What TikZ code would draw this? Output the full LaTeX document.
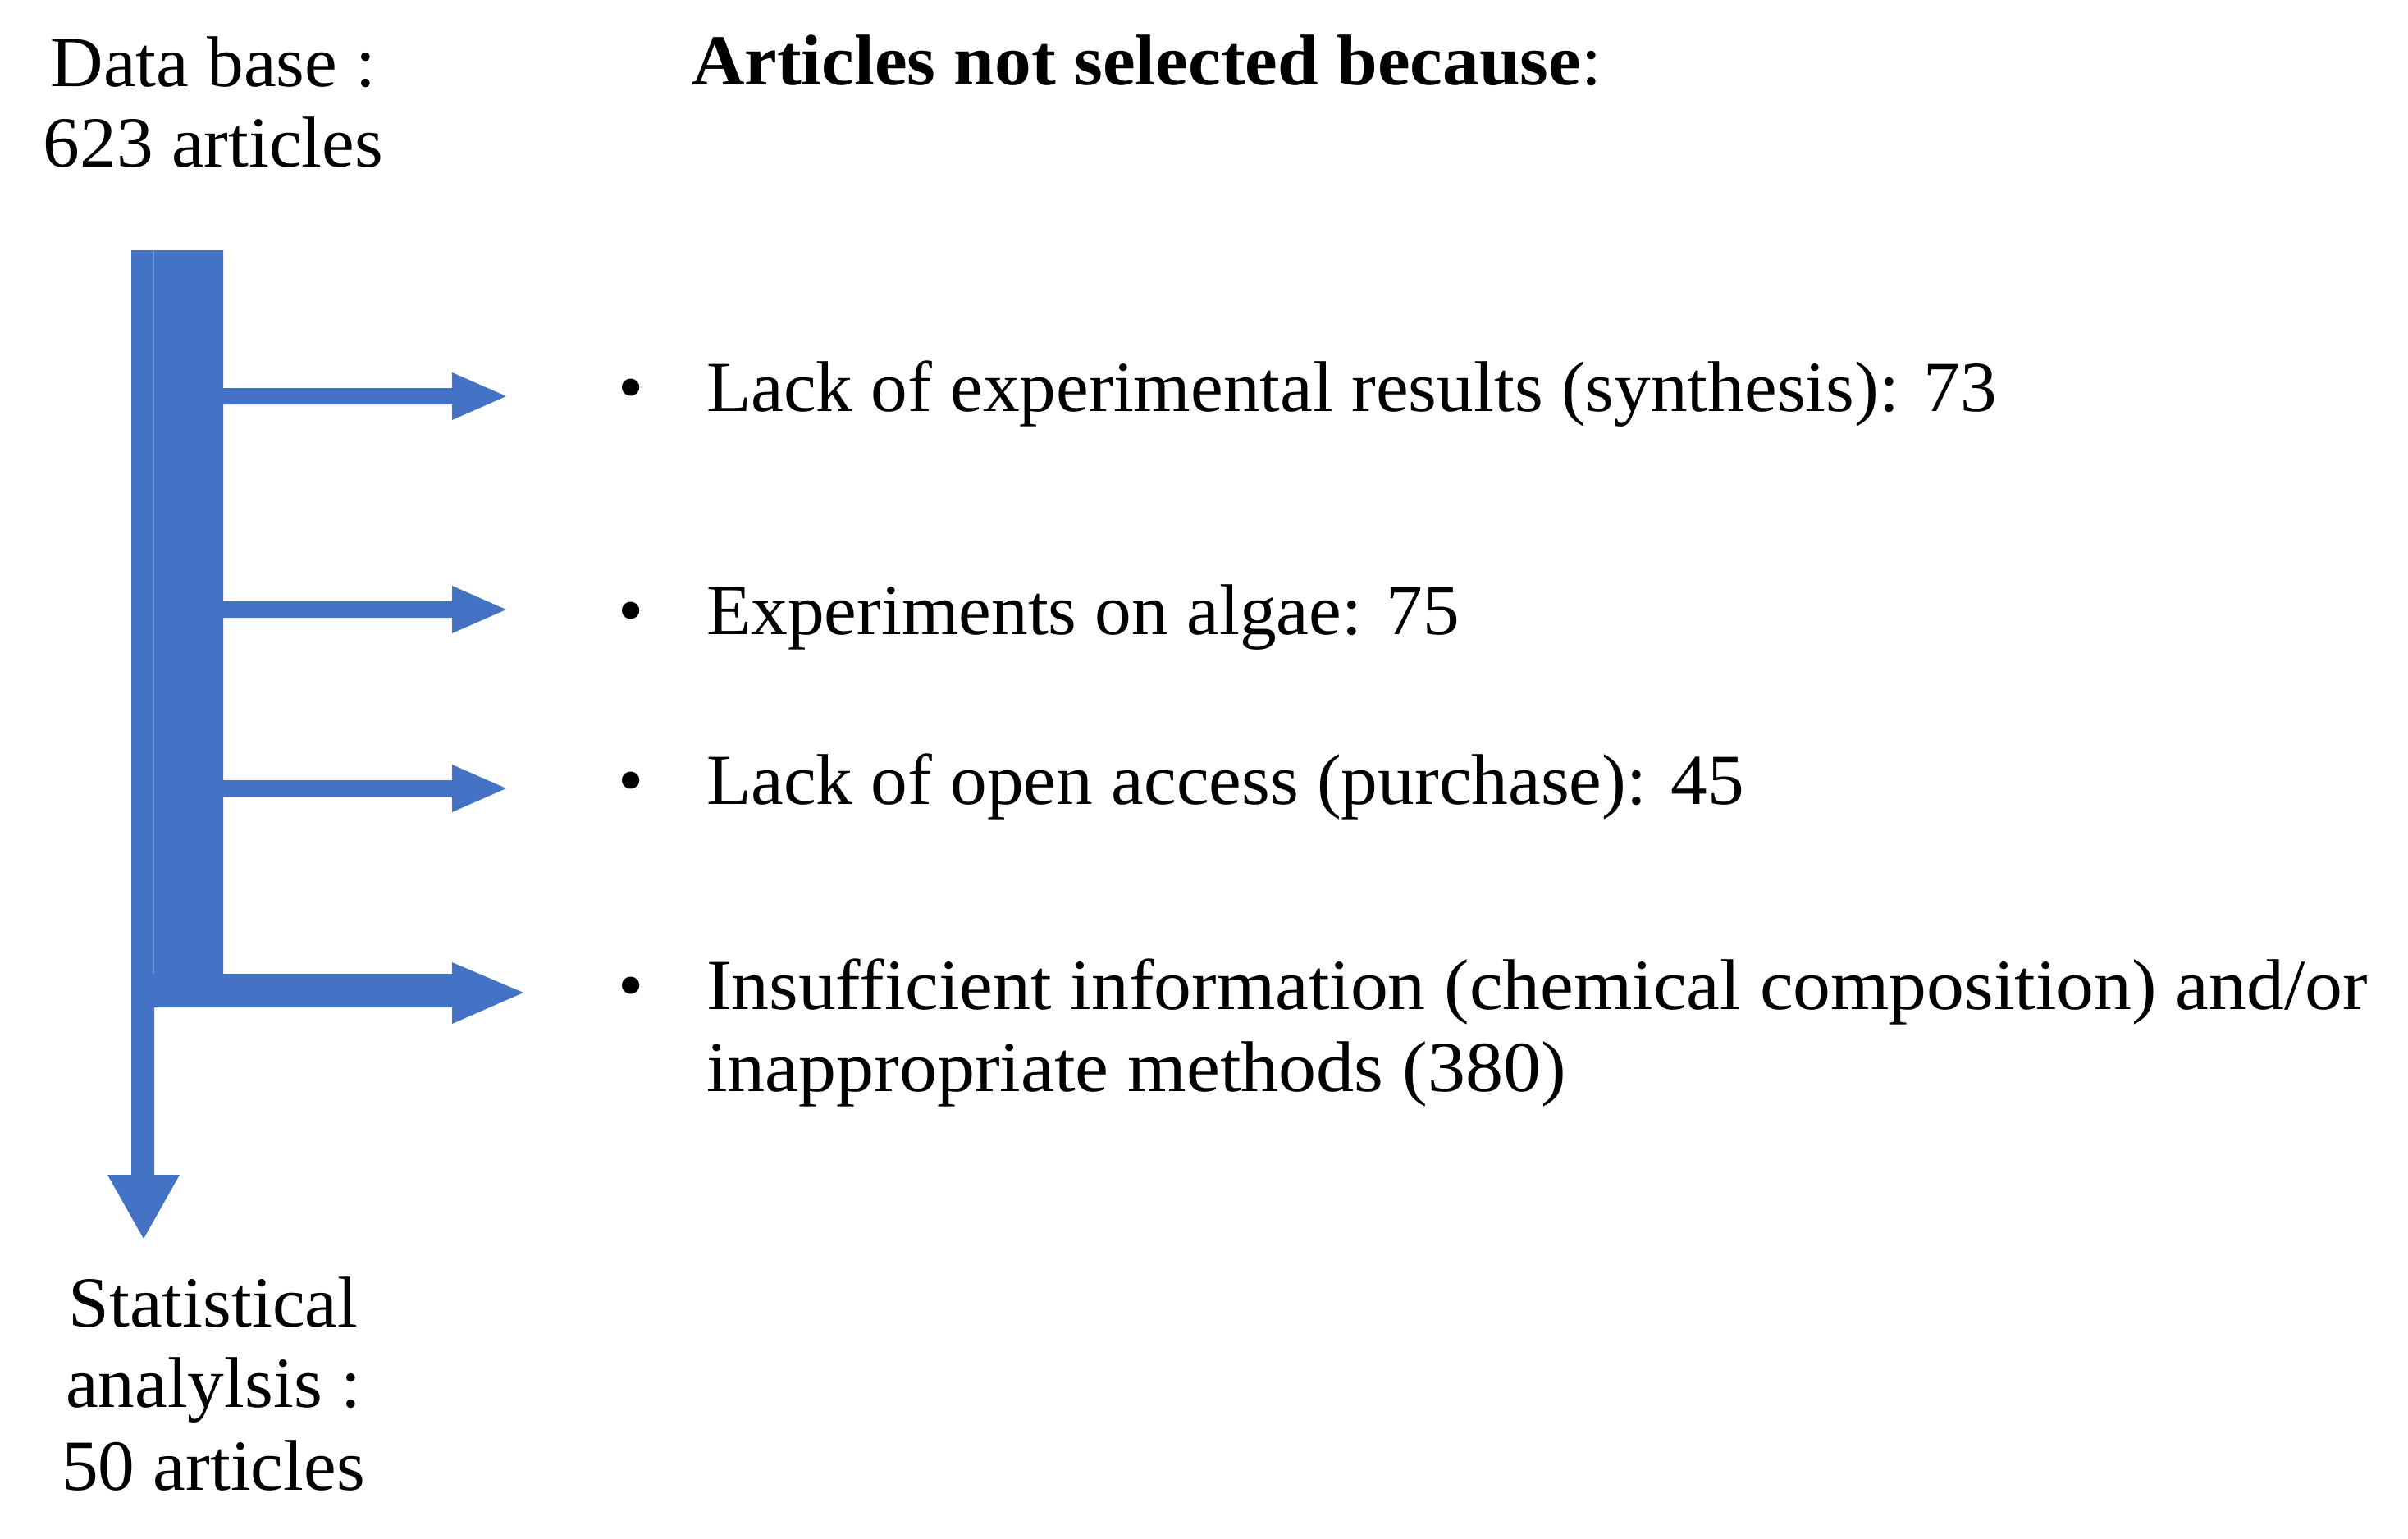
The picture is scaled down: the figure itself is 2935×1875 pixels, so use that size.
\documentclass[tikz,border=0pt]{standalone}
\usepackage{fontspec}
\usepackage{graphicx}
\setmainfont{Liberation Serif}[FakeStretch=1.02]
\definecolor{arrblue}{HTML}{4472C4}
\definecolor{seamblue}{HTML}{6A92D6}
\begin{document}
\begin{tikzpicture}[x=1pt,y=-1pt,
  txt/.style={inner sep=0pt, outer sep=0pt, font=\fontsize{87.6}{100}\selectfont},
  arrowfill/.style={fill=arrblue, draw=none}]
\useasboundingbox (0,0) rectangle (2935,1875);
% labels on the left
\node[txt, anchor=base] (db1) at (260,105) {Data base :};
\node[txt, anchor=base] (db2) at (260,203) {623 articles};
\node[txt, anchor=base] (st1) at (260,1617) {Statistical};
\node[txt, anchor=base] (st2) at (260,1715) {analylsis :};
\node[txt, anchor=base] (st3) at (260,1816) {50 articles};
% title
\node[txt, anchor=base west] (title) at (843,103) {\textbf{Articles not selected because}:};
% bullets and items
\node[txt, anchor=base] (b1) at (769,501) {•};
\node[txt, anchor=base] (b2) at (769,773) {•};
\node[txt, anchor=base] (b3) at (769,980) {•};
\node[txt, anchor=base] (b4) at (769,1230) {•};
\node[txt, anchor=base west] (i1) at (861,501) {Lack of experimental results (synthesis): 73};
\node[txt, anchor=base west] (i2) at (861,773) {Experiments on algae: 75};
\node[txt, anchor=base west] (i3) at (861,980) {Lack of open access (purchase): 45};
\node[txt, anchor=base west] (i4) at (861,1230) {\scalebox{1.026}[1]{Insufficient information (chemical composition) and/or}};
\node[txt, anchor=base west] (i5) at (861,1330) {\scalebox{1.03}[1]{inappropriate methods (380)}};
% main trunk with bottom branch and downward arrow
\fill[arrowfill] (160,305) -- (272,305) -- (272,1187) -- (551,1187) -- (551,1173)
  -- (638,1210) -- (551,1248) -- (551,1228) -- (188,1228) -- (188,1432)
  -- (219,1432) -- (175,1510) -- (131,1432) -- (160,1432) -- cycle;
\draw[seamblue, line width=2.5pt] (187,305) -- (187,1187);
% thin branch arrows
\foreach \yy in {483, 743, 961}{
  \fill[arrowfill] (271,\yy-10) -- (551,\yy-10) -- (551,\yy-29) -- (617,\yy)
    -- (551,\yy+29) -- (551,\yy+10) -- (271,\yy+10) -- cycle;
}
\end{tikzpicture}
\end{document}
